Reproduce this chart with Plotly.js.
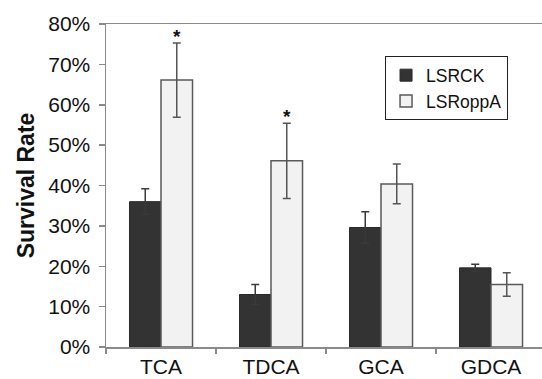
<!DOCTYPE html>
<html>
<head>
<meta charset="utf-8">
<script src="https://cdn.plot.ly/plotly-3.0.1.min.js"></script>
<style>html,body{margin:0;padding:0;background:#fff;}#chart{width:542px;height:379px;}</style>
</head>
<body>
<div id="chart"></div>
<script>
const categories = ["TCA", "TDCA", "GCA", "GDCA"];
const lsrckValues = [0.36, 0.13, 0.296, 0.196];
const lsrckErrors = [0.032, 0.025, 0.039, 0.009];
const lsroppAValues = [0.661, 0.461, 0.404, 0.155];
const lsroppAErrors = [0.092, 0.093, 0.049, 0.029];
const significant = ["TCA", "TDCA"];
const yTickValues = [0, 0.1, 0.2, 0.3, 0.4, 0.5, 0.6, 0.7, 0.8];

const FONT = "Liberation Sans, Arial, sans-serif";
const errStyle = {type: "data", visible: true, color: "#3a3a3a", thickness: 1.5, width: 4};
const BARGAP = 0.427;

const traces = [
  {
    type: "bar", name: "LSRCK", x: categories, y: lsrckValues,
    marker: {color: "#333333", line: {color: "#2a2a2a", width: 1}},
    error_y: Object.assign({array: lsrckErrors}, errStyle)
  },
  {
    type: "bar", name: "LSRoppA", x: categories, y: lsroppAValues,
    marker: {color: "#f2f2f2", line: {color: "#5a5a5a", width: 1.5}},
    error_y: Object.assign({array: lsroppAErrors}, errStyle, {color: "#555555"})
  }
];

const barOffset = (1 - BARGAP) / 4;
const annotations = significant.map(c => {
  const i = categories.indexOf(c);
  return {
    x: i + barOffset, xref: "x", y: lsroppAValues[i] + lsroppAErrors[i], yref: "y",
    text: "<b>*</b>", showarrow: false, yanchor: "bottom", yshift: -6,
    font: {family: FONT, size: 19, color: "#111"}
  };
});

const layout = {
  width: 542, height: 379,
  margin: {l: 106, r: 0, t: 24, b: 32, pad: 0},
  paper_bgcolor: "#ffffff", plot_bgcolor: "#ffffff",
  font: {family: FONT, size: 21, color: "#111"},
  barmode: "group", bargap: BARGAP, bargroupgap: 0,
  showlegend: true,
  legend: {
    x: 0.64, y: 0.9, xanchor: "left", yanchor: "top",
    bordercolor: "#222", borderwidth: 1, bgcolor: "#fff",
    font: {family: FONT, size: 17.5, color: "#111"}, itemwidth: 30, tracegroupgap: 0,
    traceorder: "normal"
  },
  xaxis: {
    type: "category", range: [-0.5, 3.4636],
    showline: true, linecolor: "#8a8a8a", linewidth: 1.5, mirror: true,
    ticks: "outside", ticklen: 5, tickcolor: "#8a8a8a", tickwidth: 1.5,
    tickson: "boundaries", showgrid: false, zeroline: false,
    tickfont: {family: FONT, size: 21, color: "#111"}
  },
  yaxis: {
    range: [0, 0.8], tickvals: yTickValues, tickformat: ".0%",
    showline: true, linecolor: "#8a8a8a", linewidth: 1.5,
    ticks: "outside", ticklen: 6, tickcolor: "#8a8a8a", tickwidth: 1.5,
    ticklabelstandoff: 4,
    showgrid: false, zeroline: false,
    tickfont: {family: FONT, size: 21, color: "#111"},
    title: {text: "<b>Survival Rate</b>", font: {family: FONT, size: 23, color: "#111"}, standoff: 7}
  },
  annotations: annotations
};

Plotly.newPlot("chart", traces, layout, {displayModeBar: false, staticPlot: true});
</script>
</body>
</html>
